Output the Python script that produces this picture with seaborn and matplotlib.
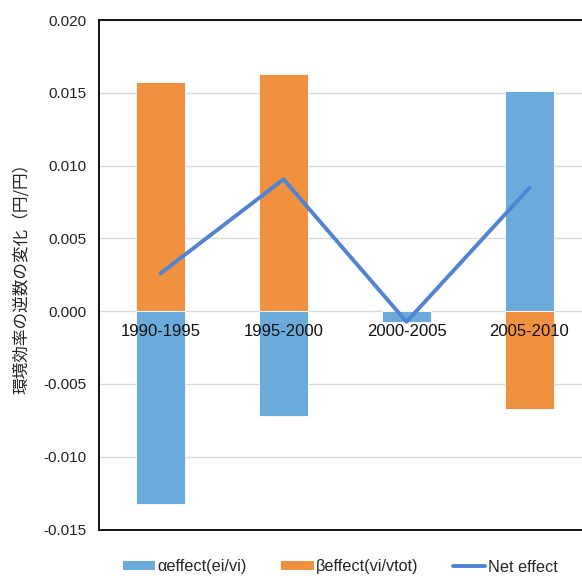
import numpy as np
import pandas as pd
import matplotlib
matplotlib.use("Agg")
import matplotlib.pyplot as plt
import seaborn as sns
from matplotlib.patches import Patch
from matplotlib.lines import Line2D

periods = ["1990-1995", "1995-2000", "2000-2005", "2005-2010"]
alpha_effect = [-0.01323, -0.00722, -0.00074, 0.01515]
beta_effect = [0.01573, 0.01630, 0.00007, -0.00674]
net_effect = [0.00259, 0.00906, -0.00073, 0.00848]
yticks = [-0.015, -0.010, -0.005, 0.000, 0.005, 0.010, 0.015, 0.020]

labels = ["αeffect(ei/vi)", "βeffect(vi/vtot)", "Net effect"]
c_alpha = "#6AABDB"
c_beta = "#F0913F"
c_net = "#4F84D3"

sns.set_theme(style="white")
plt.rcParams["font.family"] = ["Liberation Sans", "Noto Sans CJK JP", "DejaVu Sans"]

df = pd.DataFrame({"period": periods, "alpha": alpha_effect,
                   "beta": beta_effect, "net": net_effect})

fig = plt.figure(figsize=(5.82, 5.79), dpi=100)
ax = fig.add_axes([99 / 582, (579 - 529.5) / 579, 492 / 582, 509.5 / 579])

sns.barplot(data=df, x="period", y="alpha", color=c_alpha, width=0.4,
            saturation=1, edgecolor="white", linewidth=0.6, ax=ax, zorder=2)
sns.barplot(data=df, x="period", y="beta", color=c_beta, width=0.4,
            saturation=1, edgecolor="white", linewidth=0.6, ax=ax, zorder=2)
sns.lineplot(x=np.arange(len(periods)), y=df["net"], color=c_net,
             linewidth=2.8, ax=ax, zorder=3)

ax.set_xlim(-0.5, 3.5)
ax.set_ylim(-0.015, 0.020)
ax.set_yticks(yticks)
ax.set_yticklabels([f"{v:.3f}" for v in yticks], fontsize=11, color="#222222")
ax.yaxis.grid(True, color="#D9D9D9", linewidth=1.0, zorder=0)
ax.set_axisbelow(True)
ax.tick_params(axis="y", length=0, pad=9)
ax.tick_params(axis="x", length=0, labelbottom=False)
ax.set_xlabel("")
ax.set_ylabel("環境効率の逆数の変化（円/円）", fontsize=12,
              family=["Noto Sans CJK JP", "DejaVu Sans"], labelpad=10,
              color="#222222")

for side in ["left", "top", "bottom", "right"]:
    ax.spines[side].set_color("#111111")
    ax.spines[side].set_linewidth(1.4)

zero_frac = (0 - (-0.015)) / (0.020 - (-0.015))
sec = ax.secondary_xaxis(zero_frac)
sec.set_xticks(range(len(periods)), labels=periods)
sec.tick_params(length=0, pad=9, labelsize=12, labelcolor="#111111")
for s in sec.spines.values():
    s.set_visible(False)
sec.set_zorder(10)

handles = [Patch(facecolor=c_alpha, edgecolor="none"),
           Patch(facecolor=c_beta, edgecolor="none"),
           Line2D([0], [0], color=c_net, linewidth=2.8)]
fig.legend(handles, labels, loc="center", bbox_to_anchor=(340 / 582, 1 - 567 / 579),
           ncol=3, frameon=False, fontsize=11.7, handlelength=2.0,
           handleheight=0.5, handletextpad=0.15, columnspacing=2.1)

fig.savefig("out.png", dpi=100)
